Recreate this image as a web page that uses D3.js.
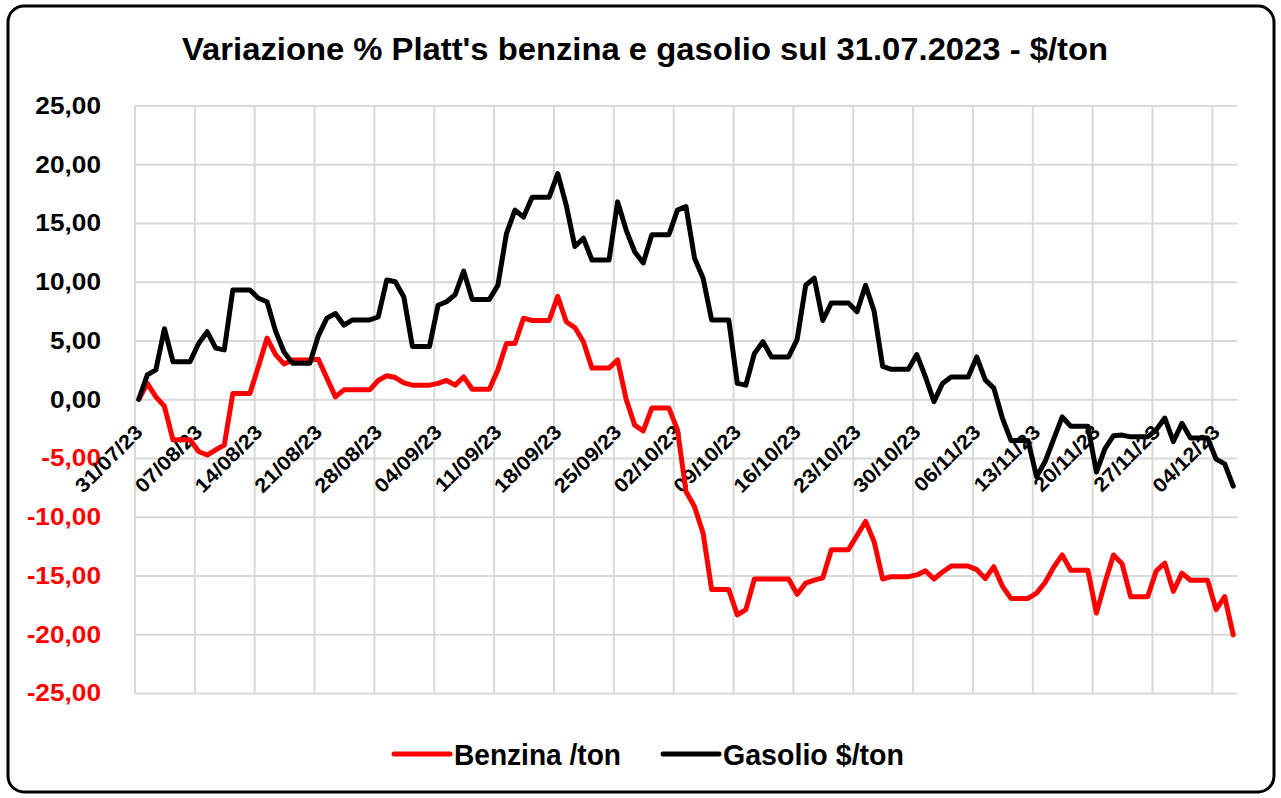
<!DOCTYPE html>
<html>
<head>
<meta charset="utf-8">
<script src="https://cdn.jsdelivr.net/npm/d3@7"></script>
<style>
  body { margin: 0; background: #fff; }
  text { font-family: 'Liberation Sans', Arial, sans-serif; font-weight: bold; }
</style>
</head>
<body>
<svg id="chart" width="1281" height="798"></svg>
<script>
// chart data
const titleText = "Variazione % Platt's benzina e gasolio sul 31.07.2023 - $/ton";
const seriesNames = ['Benzina /ton', 'Gasolio $/ton'];
const seriesColors = ['#ff0000', '#000000'];
const firstDay = '31/07/23';
const tickLabels = ['31/07/23', '07/08/23', '14/08/23', '21/08/23', '28/08/23', '04/09/23', '11/09/23',
    '18/09/23', '25/09/23', '02/10/23', '09/10/23', '16/10/23', '23/10/23', '30/10/23', '06/11/23',
    '13/11/23', '20/11/23', '27/11/23', '04/12/23'];
const yTicks = [25, 20, 15, 10, 5, 0, -5, -10, -15, -20, -25];

// one value per calendar day from 31/07/23
const benzina = [
    0, 1.35, 0.2, -0.6, -3.45, -3.45, -3.45,
    -4.45, -4.75, -4.3, -3.9, 0.5, 0.5, 0.5,
    2.8, 5.2, 3.8, 3.0, 3.35, 3.35, 3.35,
    3.4, 1.8, 0.2, 0.8, 0.8, 0.8, 0.8,
    1.6, 2.0, 1.85, 1.4, 1.2, 1.2, 1.2,
    1.35, 1.6, 1.2, 1.9, 0.85, 0.85, 0.85,
    2.5, 4.75, 4.75, 6.9, 6.7, 6.7, 6.7,
    8.75, 6.6, 6.1, 4.9, 2.65, 2.65, 2.65,
    3.35, 0.0, -2.2, -2.7, -0.75, -0.75, -0.75,
    -2.6, -7.85, -9.15, -11.4, -16.2, -16.2, -16.2,
    -18.35, -17.9, -15.3, -15.3, -15.3, -15.3, -15.3,
    -16.6, -15.65, -15.4, -15.2, -12.8, -12.8, -12.8,
    -11.6, -10.4, -12.1, -15.3, -15.1, -15.1, -15.1,
    -14.95, -14.6, -15.3, -14.7, -14.2, -14.2, -14.2,
    -14.5, -15.25, -14.25, -15.9, -16.95, -16.95, -16.95,
    -16.5, -15.6, -14.3, -13.25, -14.55, -14.55, -14.55,
    -18.2, -15.6, -13.25, -14.0, -16.8, -16.8, -16.8,
    -14.6, -13.95, -16.35, -14.8, -15.4, -15.4, -15.4,
    -17.9, -16.8, -20.05
];
const gasolio = [
    0, 2.07, 2.5, 6.0, 3.2, 3.2, 3.2,
    4.75, 5.75, 4.35, 4.2, 9.3, 9.3, 9.3,
    8.6, 8.3, 5.8, 4.0, 3.07, 3.07, 3.07,
    5.4, 6.9, 7.3, 6.3, 6.75, 6.75, 6.75,
    7.0, 10.15, 10.0, 8.7, 4.5, 4.5, 4.5,
    8.0, 8.3, 8.9, 10.9, 8.5, 8.5, 8.5,
    9.7, 14.1, 16.1, 15.5, 17.2, 17.2, 17.2,
    19.2, 16.5, 13.0, 13.7, 11.85, 11.85, 11.85,
    16.8, 14.4, 12.55, 11.6, 14.0, 14.0, 14.0,
    16.1, 16.4, 12.0, 10.3, 6.75, 6.75, 6.75,
    1.35, 1.2, 3.9, 4.9, 3.6, 3.6, 3.6,
    5.1, 9.7, 10.3, 6.7, 8.2, 8.2, 8.2,
    7.45, 9.7, 7.5, 2.8, 2.55, 2.55, 2.55,
    3.8, 1.9, -0.2, 1.35, 1.9, 1.9, 1.9,
    3.6, 1.65, 0.95, -1.6, -3.5, -3.5, -3.5,
    -6.6, -5.3, -3.4, -1.5, -2.3, -2.3, -2.3,
    -6.2, -4.2, -3.1, -3.05, -3.2, -3.2, -3.2,
    -2.6, -1.6, -3.6, -2.05, -3.3, -3.3, -3.3,
    -5.1, -5.5, -7.4
];

const svg = d3.select('#chart');
const parseDay = d3.timeParse('%d/%m/%y');
const start = parseDay(firstDay);
const days = benzina.map((d, i) => d3.timeDay.offset(start, i));
const midDay = d => d3.timeHour.offset(d, 12);

const margin = { top: 105.5, right: 43.5, bottom: 105, left: 134.5 };
const width = 1281, height = 798;

const x = d3.scaleTime()
    .domain([start, d3.timeDay.offset(start, days.length)])
    .range([margin.left, width - margin.right]);
const y = d3.scaleLinear()
    .domain([-25, 25])
    .range([height - margin.bottom, margin.top]);

// outer frame
svg.append('rect')
    .attr('x', 8).attr('y', 6)
    .attr('width', 1266).attr('height', 786)
    .attr('rx', 16)
    .attr('fill', '#fff')
    .attr('stroke', '#000')
    .attr('stroke-width', 3);

// title
svg.append('text')
    .attr('x', 645).attr('y', 60)
    .attr('text-anchor', 'middle')
    .attr('font-size', 31)
    .attr('textLength', 926)
    .attr('lengthAdjust', 'spacingAndGlyphs')
    .text(titleText);

const tickDates = tickLabels.map(parseDay);

// grid lines
svg.append('g')
    .attr('transform', `translate(0,${y.range()[1]})`)
    .call(d3.axisTop(x).tickValues(tickDates).tickSize(-(y.range()[0] - y.range()[1])).tickFormat(''))
    .call(g => g.select('.domain').remove())
    .selectAll('line').attr('stroke', '#d9d9d9').attr('stroke-width', 2);

svg.append('g')
    .attr('transform', `translate(${margin.left},0)`)
    .call(d3.axisLeft(y).tickValues(yTicks).tickSize(-(x.range()[1] - x.range()[0])).tickFormat(''))
    .call(g => g.select('.domain').remove())
    .selectAll('line').attr('stroke', '#d9d9d9').attr('stroke-width', 2);

// y labels
const fmt = v => d3.format('.2f')(v).replace('.', ',').replace('−', '-');
const yLab = svg.append('g').selectAll('text')
    .data(yTicks)
    .join('text')
    .attr('x', 101)
    .attr('y', d => y(d))
    .attr('dy', '0.36em')
    .attr('text-anchor', 'end')
    .attr('font-size', 23)
    .attr('fill', d => d < 0 ? '#ff0000' : '#000')
    .text(fmt);
yLab.each(function () {
    const w = this.getComputedTextLength();
    d3.select(this).attr('textLength', w * 1.14).attr('lengthAdjust', 'spacingAndGlyphs');
});

// x labels, rotated, hanging under the zero line
const xLab = svg.append('g').selectAll('text')
    .data(tickDates)
    .join('text')
    .attr('transform', d => `translate(${x(midDay(d))},${y(0) + 29}) rotate(-45)`)
    .attr('dy', '0.36em')
    .attr('text-anchor', 'end')
    .attr('font-size', 20)
    .text((d, i) => tickLabels[i]);
xLab.each(function () {
    const w = this.getComputedTextLength();
    d3.select(this).attr('textLength', w * 1.1).attr('lengthAdjust', 'spacingAndGlyphs');
});

// lines
const series = [benzina, gasolio];
const line = d3.line()
    .x((d, i) => x(midDay(days[i])))
    .y(d => y(d));

svg.append('g').selectAll('path')
    .data(series)
    .join('path')
    .attr('fill', 'none')
    .attr('stroke', (d, i) => seriesColors[i])
    .attr('stroke-width', 5)
    .attr('stroke-linejoin', 'round')
    .attr('stroke-linecap', 'round')
    .attr('d', line);

// legend
const legendX = [394, 663];
const legendW = [167, 181];
const legend = svg.append('g').selectAll('g')
    .data(seriesNames)
    .join('g')
    .attr('transform', (d, i) => `translate(${legendX[i]},754)`);
legend.append('line')
    .attr('x1', 0).attr('x2', 56)
    .attr('stroke', (d, i) => seriesColors[i])
    .attr('stroke-width', 5)
    .attr('stroke-linecap', 'round');
legend.append('text')
    .attr('x', 60)
    .attr('y', 11)
    .attr('font-size', 30)
    .attr('textLength', (d, i) => legendW[i])
    .attr('lengthAdjust', 'spacingAndGlyphs')
    .text(d => d);
</script>
</body>
</html>
